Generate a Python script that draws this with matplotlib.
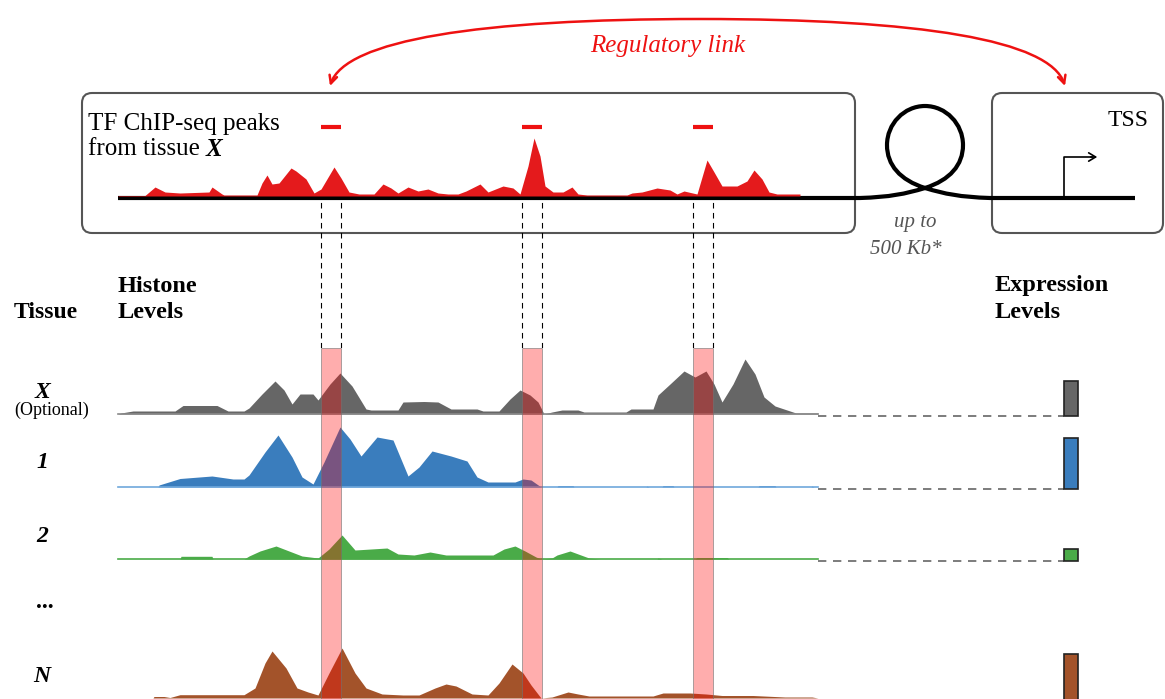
import numpy as np
import matplotlib
matplotlib.use("Agg")
import matplotlib.pyplot as plt
from matplotlib.patches import FancyBboxPatch, FancyArrowPatch, PathPatch
from matplotlib.path import Path

plt.rcParams['font.family'] = ['Liberation Serif', 'DejaVu Serif']

#%% data (positions along the locus in kb, signal in coverage units)
locus_kb = 70
chip_profile = [(0, 0.5), (2.7, 0.5), (3.7, 9), (4.7, 4), (6.2, 3), (9.1, 4), (9.4, 9), (10.4, 2),
                (10.6, 1), (13.9, 1), (14.4, 13), (14.9, 21), (15.4, 12), (16.1, 13), (17.3, 28),
                (17.8, 25), (18.8, 17), (19.6, 3), (20.3, 7), (21.6, 29), (22.3, 18), (23.1, 4),
                (24.1, 2), (25.6, 2), (26.5, 12), (27.3, 8), (28.0, 3), (29.0, 9), (30.0, 5),
                (31.0, 7), (32.0, 3), (33.0, 2), (34.0, 2), (34.8, 5), (36.2, 12), (37.0, 4),
                (38.5, 10), (39.5, 8), (40.2, 2), (41.0, 30), (41.6, 58), (42.2, 40), (42.7, 10),
                (43.5, 4), (44.5, 4), (45.4, 9), (46.0, 2), (46.9, 1), (50.9, 1), (51.4, 3),
                (52.4, 4), (53.9, 8), (55.2, 6), (55.9, 2), (56.6, 5), (57.9, 2), (58.9, 36),
                (59.6, 24), (60.4, 10), (61.9, 10), (62.9, 15), (63.6, 26), (64.4, 17), (65.1, 4),
                (65.9, 2), (68.2, 2)]
peak_regions = [(20.3, 22.3), (40.4, 42.4), (57.5, 59.5)]

histone_x = [(0, 0), (0.3, 1), (1.5, 3), (5.7, 3), (6.5, 8.5), (9.9, 8.5), (11.0, 3), (12.6, 3),
             (13.1, 6), (14.4, 20), (15.7, 33), (16.6, 24), (17.4, 10), (18.2, 20), (19.5, 20),
             (20.0, 14), (21.2, 30), (22.2, 41), (23.4, 28), (24.8, 5), (25.3, 4), (28.0, 4),
             (28.5, 12), (30.6, 12.5), (32.0, 12), (33.3, 5), (35.9, 5), (36.5, 3), (38.1, 3),
             (39.2, 15), (40.2, 24), (41.2, 19), (42.0, 12), (42.6, 0), (43.4, 2), (44.4, 4),
             (46.0, 4), (46.6, 2), (50.8, 2), (51.3, 5), (53.5, 5), (54.0, 19), (55.2, 30),
             (56.6, 43), (57.7, 37), (58.8, 43), (59.6, 30), (60.4, 12), (61.5, 30), (62.7, 55),
             (63.7, 40), (64.6, 17), (65.7, 8), (67.2, 3), (67.8, 1), (70, 1)]
histone_1 = [(0, 0), (4.0, 0), (4.1, 2), (6.2, 8.5), (9.4, 11), (11.5, 8), (12.6, 8), (13.1, 12),
             (14.7, 35), (16.0, 52), (17.4, 30), (18.4, 10), (19.5, 3), (20.6, 25), (22.2, 60),
             (23.2, 48), (24.3, 31), (25.9, 50), (27.5, 47), (29.0, 11), (30.1, 20), (31.4, 36),
             (33.3, 31), (34.9, 26), (35.9, 10), (37.0, 5), (39.7, 5), (40.5, 8), (41.3, 7),
             (42.3, 0), (43.9, 0), (44.0, 1.5), (45.5, 1.5), (45.6, 0), (52.8, 0), (52.9, 1),
             (53.1, 0), (54.4, 0), (54.5, 1.5), (55.5, 1.5), (55.6, 0), (64.0, 0), (64.1, 1.5),
             (65.7, 1.5), (65.8, 0), (69.3, 0), (69.4, 1), (69.6, 0), (70, 0)]
histone_2 = [(0, 0), (6.2, 0), (6.3, 2.7), (9.4, 2.7), (9.5, 0), (12.6, 0), (13.1, 3), (14.2, 8),
             (15.8, 13), (17.1, 8), (18.4, 3), (20.0, 1), (21.1, 10), (22.4, 24), (23.7, 9),
             (25.3, 10), (26.9, 11), (28.0, 5), (29.6, 4), (31.2, 7), (32.8, 4), (37.5, 4),
             (38.6, 10), (39.7, 13), (40.7, 8), (41.8, 2), (42.3, 0), (43.4, 1), (43.9, 4),
             (45.2, 8), (47.1, 1), (48.2, 0), (53.9, 0), (54.0, 1), (54.4, 0), (57.7, 0),
             (57.9, 1.5), (60.9, 1.5), (61.1, 0), (70, 0)]
histone_n = [(0, 0), (3.5, 0), (3.6, 1.5), (4.6, 1.5), (5.2, 0.5), (6.2, 3.3), (12.6, 3.3),
             (13.7, 10), (14.7, 35), (15.4, 47), (16.8, 30), (17.9, 10), (19.0, 6), (20.0, 3),
             (21.1, 25), (22.4, 50), (23.7, 25), (24.8, 10), (26.4, 4), (28.5, 3), (30.1, 3),
             (31.7, 10), (32.8, 14), (33.8, 12), (35.4, 4), (37.0, 3), (38.1, 15), (39.4, 34),
             (40.5, 25), (41.3, 13), (42.3, 0), (43.4, 1), (45.0, 6), (46.0, 4), (47.1, 2),
             (53.5, 2), (54.5, 5), (57.2, 5), (58.8, 4), (60.4, 2.5), (63.5, 2.5), (66.7, 1),
             (69.4, 1), (70, 0)]

tissue_labels = ['X', '1', '2', 'N']
expression = [35, 51, 12, 46]

#%% layout (pixels)
W, H = 1165, 699
TX0, TX1 = 118, 818
row_base = [414, 487, 559, 698]
row_colors = ['#666666', '#3a7dbd', '#4aab48', '#a3532a']
line_colors = ['#8a8a8a', '#6fa8dc', '#4aab48', None]
label_y = [392, 462, 536, 676]

fig = plt.figure(figsize=(W / 100, H / 100), dpi=100)
bg = fig.add_axes([0, 0, 1, 1])
bg.set_xlim(0, W)
bg.set_ylim(H, 0)
bg.axis('off')


def px_axes(x0, ytop, x1, ybot):
    a = fig.add_axes([x0 / W, 1 - ybot / H, (x1 - x0) / W, (ybot - ytop) / H])
    a.axis('off')
    return a


# boxes
for x0, x1 in [(82, 855), (992, 1163)]:
    bg.add_patch(FancyBboxPatch((x0, 93), x1 - x0, 140, boxstyle="round,pad=0,rounding_size=10",
                                fc='none', ec='#555555', lw=1.5))

# genomic line with loop
verts = [(TX0, 198), (860, 198),
         (890, 197), (905, 194), (925, 188),
         (950, 180), (963, 165), (963, 145),
         (963, 124), (946, 106), (925, 106),
         (904, 106), (887, 124), (887, 145),
         (887, 165), (900, 180), (925, 188),
         (945, 194), (960, 197), (990, 198),
         (1135, 198)]
codes = [Path.MOVETO, Path.LINETO] + [Path.CURVE4] * 18 + [Path.LINETO]
bg.add_patch(PathPatch(Path(verts, codes), fc='none', ec='black', lw=3.0, capstyle='butt'))

# TSS arrow
bg.plot([1064, 1064, 1092], [198, 157, 157], color='black', lw=1.2)
bg.annotate('', xy=(1100, 157), xytext=(1088, 157),
            arrowprops=dict(arrowstyle='->,head_length=0.5,head_width=0.3', color='black', lw=1.2))
bg.text(1128, 121, 'TSS', fontsize=17, ha='center', va='center')

bg.text(915, 222, 'up to', fontsize=15, style='italic', color='#555555', ha='center', va='center')
bg.text(906, 249, '500 Kb*', fontsize=15, style='italic', color='#555555', ha='center', va='center')

# regulatory link
arc = Path([(330, 86), (345, 40), (480, 19), (700, 19), (920, 19), (1050, 40), (1065, 86)],
           [Path.MOVETO] + [Path.CURVE4] * 6)
bg.add_patch(FancyArrowPatch(path=arc, arrowstyle='<->', mutation_scale=14, color='#ee1111', lw=1.8))
bg.text(668, 46, 'Regulatory link', fontsize=18, style='italic', color='#ee1111', ha='center', va='center')

# texts
bg.text(88, 124, 'TF ChIP-seq peaks', fontsize=18, va='center')
t = bg.text(88, 149, 'from tissue ', fontsize=18, va='center')
bg.annotate('X', xy=(1, 0.5), xycoords=t, va='center', ha='left', fontsize=18,
            fontweight='bold', style='italic')
bg.text(14, 313, 'Tissue', fontsize=17, fontweight='bold', va='center')
bg.text(118, 286, 'Histone', fontsize=17.5, fontweight='bold', va='center')
bg.text(118, 312, 'Levels', fontsize=17.5, fontweight='bold', va='center')
bg.text(995, 286, 'Expression', fontsize=17.5, fontweight='bold', va='center')
bg.text(995, 312, 'Levels', fontsize=17.5, fontweight='bold', va='center')
for lab, yl in zip(tissue_labels, label_y):
    bg.text(42, yl, lab, fontsize=17, fontweight='bold', style='italic', ha='center', va='center')
bg.text(52, 410, '(Optional)', fontsize=13, ha='center', va='center')
bg.text(45, 603, '...', fontsize=17, fontweight='bold', ha='center', va='center')

# ChIP-seq track
ax = px_axes(TX0, 196 - 75, TX1, 196)
ax.set_xlim(0, locus_kb)
ax.set_ylim(0, 75)
cp, cv = zip(*chip_profile)
ax.fill_between(cp, 0, cv, color='#e41a1c', lw=0)
for a, b in peak_regions:
    ax.hlines(69, a, b, color='#ee1111', lw=3)

# dashed connectors from the peaks down to the tracks
ax = px_axes(TX0, 200, TX1, 348)
ax.set_xlim(0, locus_kb)
ax.set_ylim(0, 1)
for a, b in peak_regions:
    ax.vlines([a, b], 0, 1, colors='black', lw=0.8, linestyles=(0, (5, 4)))

# histone tracks
for prof, base, col, lcol in zip([histone_x, histone_1, histone_2, histone_n],
                                 row_base, row_colors, line_colors):
    ax = px_axes(TX0, base - 70, TX1, base)
    ax.set_xlim(0, locus_kb)
    ax.set_ylim(0, 70)
    p, v = zip(*prof)
    ax.fill_between(p, 0, v, color=col, lw=0)
    if lcol:
        ax.axhline(0, color=lcol, lw=1.2, clip_on=False)
        bg.plot([TX1, 1064], [base + 2, base + 2], color='#666666', lw=1.2, dashes=(5, 4))

# highlighted regions
ax = px_axes(TX0, 348, TX1, H)
ax.set_xlim(0, locus_kb)
ax.set_ylim(0, 1)
for a, b in peak_regions:
    ax.axvspan(a, b, fc=(1, 0, 0, 0.32), ec=(0.45, 0.45, 0.45, 0.6), lw=0.7)

# expression bars
for val, base, col in zip(expression, row_base, row_colors):
    ax = px_axes(1057, base + 2 - 60, 1085, base + 2)
    ax.set_xlim(-1, 1)
    ax.set_ylim(0, 60)
    ax.bar(0, val, width=1, color=col, edgecolor='#222222', lw=1.2, clip_on=False)

fig.savefig('out.png', dpi=100)
